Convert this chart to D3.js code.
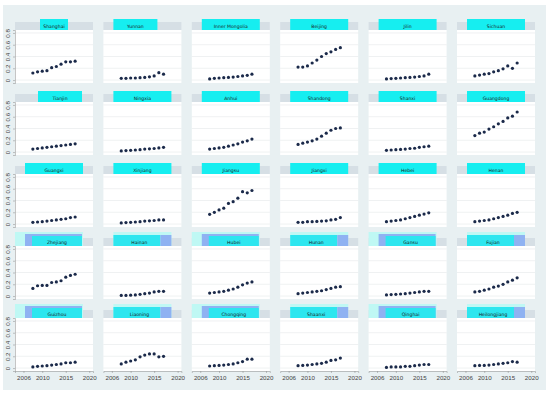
<!DOCTYPE html>
<html><head><meta charset="utf-8">
<script src="https://cdn.jsdelivr.net/npm/d3@7/dist/d3.min.js"></script>
<style>body{margin:0;background:#fff}svg{display:block;font-family:"DejaVu Sans",sans-serif}</style>
</head><body><svg id="c" width="550" height="394"></svg>
<script>
const years = [2008,2009,2010,2011,2012,2013,2014,2015,2016,2017];
const regions = [
 "Shanghai","Yunnan","Inner Mongolia","Beijing","Jilin","Sichuan",
 "Tianjin","Ningxia","Anhui","Shandong","Shanxi","Guangdong",
 "Guangxi","Xinjiang","Jiangsu","Jiangxi","Hebei","Henan",
 "Zhejiang","Hainan","Hubei","Hunan","Gansu","Fujian",
 "Guizhou","Liaoning","Chongqing","Shaanxi","Qinghai","Heilongjiang"];
const shanghai = [0.12,0.14,0.15,0.16,0.21,0.23,0.27,0.31,0.31,0.32];
const yunnan = [0.03,0.03,0.035,0.035,0.04,0.045,0.055,0.07,0.125,0.10];
const innerMongolia = [0.02,0.03,0.035,0.04,0.045,0.05,0.06,0.07,0.08,0.10];
const beijing = [0.22,0.22,0.24,0.29,0.34,0.40,0.45,0.48,0.52,0.55];
const jilin = [0.02,0.025,0.03,0.035,0.04,0.045,0.05,0.06,0.07,0.10];
const sichuan = [0.07,0.085,0.10,0.11,0.14,0.16,0.19,0.24,0.20,0.29];
const tianjin = [0.05,0.06,0.07,0.08,0.09,0.10,0.11,0.12,0.13,0.14];
const ningxia = [0.02,0.025,0.03,0.035,0.04,0.05,0.055,0.06,0.07,0.08];
const anhui = [0.05,0.06,0.07,0.08,0.10,0.12,0.14,0.17,0.19,0.22];
const shandong = [0.13,0.15,0.17,0.19,0.22,0.27,0.32,0.37,0.40,0.41];
const shanxi = [0.03,0.035,0.04,0.045,0.05,0.06,0.065,0.08,0.09,0.10];
const guangdong = [0.28,0.32,0.34,0.39,0.43,0.48,0.52,0.58,0.61,0.68];
const guangxi = [0.03,0.035,0.04,0.05,0.06,0.07,0.08,0.09,0.11,0.12];
const xinjiang = [0.02,0.025,0.03,0.035,0.04,0.05,0.055,0.06,0.07,0.07];
const jiangsu = [0.165,0.20,0.24,0.27,0.35,0.38,0.44,0.55,0.53,0.57];
const jiangxi = [0.03,0.03,0.04,0.04,0.045,0.05,0.055,0.07,0.08,0.11];
const hebei = [0.04,0.05,0.06,0.07,0.09,0.11,0.13,0.15,0.17,0.19];
const henan = [0.04,0.05,0.06,0.07,0.09,0.11,0.13,0.15,0.18,0.20];
const zhejiang = [0.13,0.175,0.18,0.18,0.23,0.24,0.26,0.32,0.35,0.37];
const hainan = [0.01,0.01,0.015,0.02,0.03,0.04,0.05,0.07,0.08,0.08];
const hubei = [0.05,0.06,0.07,0.08,0.10,0.12,0.15,0.19,0.22,0.24];
const hunan = [0.04,0.05,0.06,0.07,0.08,0.09,0.11,0.13,0.15,0.16];
const gansu = [0.02,0.025,0.03,0.035,0.04,0.05,0.06,0.07,0.08,0.08];
const fujian = [0.07,0.08,0.10,0.12,0.15,0.17,0.20,0.24,0.27,0.31];
const guizhou = [0.02,0.03,0.035,0.04,0.05,0.06,0.07,0.09,0.09,0.10];
const liaoning = [0.07,0.10,0.12,0.14,0.19,0.22,0.24,0.24,0.19,0.20];
const chongqing = [0.035,0.04,0.045,0.05,0.06,0.07,0.09,0.11,0.15,0.15];
const shaanxi = [0.04,0.045,0.05,0.06,0.07,0.08,0.10,0.13,0.14,0.17];
const qinghai = [0.01,0.02,0.02,0.02,0.03,0.03,0.04,0.05,0.06,0.06];
const heilongjiang = [0.04,0.045,0.045,0.05,0.06,0.07,0.08,0.09,0.11,0.10];
const seriesValues = [shanghai,yunnan,innerMongolia,beijing,jilin,sichuan,
 tianjin,ningxia,anhui,shandong,shanxi,guangdong,
 guangxi,xinjiang,jiangsu,jiangxi,hebei,henan,
 zhejiang,hainan,hubei,hunan,gansu,fujian,
 guizhou,liaoning,chongqing,shaanxi,qinghai,heilongjiang];
const yTicks = [0,0.2,0.4,0.6,0.8];
const xTicks = [2006,2010,2015,2020];

const svg = d3.select("#c");
svg.append("rect").attr("x",3).attr("y",5).attr("width",543).attr("height",385).attr("fill","#e8f0f2");

const cols = 6, pw = 78, ph = 53, sh = 8;
const colX = i => 15 + i*88.4;
const rowY = r => 22 + r*72;
const x = d3.scaleLinear().domain([2004.2,2020.8]).range([0,pw]);
const y = d3.scaleLinear().domain([-0.05,0.85]).range([ph,0]);
const boxOverride = {"Shanghai":[25,53],"Yunnan":[10,54],"Tianjin":[23,67]};

regions.forEach((name,k)=>{
  const c = k%cols, r = Math.floor(k/cols);
  const L = colX(c), T = rowY(r);
  const g = svg.append("g").attr("transform",`translate(${L},${T})`);
  // strip
  g.append("rect").attr("width",pw).attr("height",sh).attr("fill","#d6dfe5");
  let tx;
  if (r < 3) {
    const b = boxOverride[name] || [10,68];
    g.append("rect").attr("x",b[0]).attr("y",-3).attr("width",b[1]-b[0]).attr("height",sh+3).attr("fill","#16eef0");
    tx = (b[0]+b[1])/2;
  } else if (c % 2 === 0) {
    g.append("rect").attr("x",0).attr("y",-6).attr("width",68).attr("height",sh+6).attr("fill","#bff8f4");
    g.append("rect").attr("x",10).attr("y",-4).attr("width",57).attr("height",sh+4).attr("fill","#8fb2f2");
    g.append("rect").attr("x",17).attr("y",-2).attr("width",50).attr("height",sh+2).attr("fill","#2de6ef");
    tx = 42;
  } else {
    g.append("rect").attr("x",10).attr("y",-6).attr("width",58).attr("height",sh+6).attr("fill","#bff8f4");
    g.append("rect").attr("x",10).attr("y",-3).attr("width",47).attr("height",sh+3).attr("fill","#2de6ef");
    g.append("rect").attr("x",57).attr("y",-3).attr("width",11).attr("height",sh+3).attr("fill","#8fb2f2");
    tx = 36;
  }
  g.append("text").attr("x",tx).attr("y",sh-2.2).attr("text-anchor","middle")
    .attr("font-size",4.6).attr("fill","#1a1a1a").text(name);
  // plot
  const p = g.append("g").attr("transform",`translate(0,${sh})`);
  p.append("rect").attr("width",pw).attr("height",ph).attr("fill","#ffffff");
  p.selectAll("line.grid").data(yTicks).join("line").attr("class","grid")
    .attr("x1",0).attr("x2",pw).attr("y1",d=>y(d)).attr("y2",d=>y(d))
    .attr("stroke","#e4e8ea").attr("stroke-width",0.6);
  if (c === 0) {
    const ax = p.append("g").call(d3.axisLeft(y).tickValues(yTicks).tickSize(2).tickPadding(2).tickFormat(d3.format("")));
    ax.select(".domain").attr("stroke","#8a8a8a").attr("stroke-width",0.5);
    ax.selectAll(".tick line").attr("stroke","#8a8a8a").attr("stroke-width",0.5);
    ax.selectAll(".tick text").attr("font-size",6.2).attr("fill","#444")
      .attr("transform","rotate(-90)").attr("text-anchor","middle").attr("x",0).attr("y",-5).attr("dy","0");
  }
  if (r === 4) {
    const bx = p.append("g").attr("transform",`translate(0,${ph})`)
      .call(d3.axisBottom(x).tickValues(xTicks).tickSize(2).tickPadding(3).tickFormat(d3.format("d")));
    bx.select(".domain").attr("stroke","#8a8a8a").attr("stroke-width",0.5);
    bx.selectAll(".tick line").attr("stroke","#8a8a8a").attr("stroke-width",0.5);
    bx.selectAll(".tick text").attr("font-size",6.2).attr("fill","#444");
  }
  const vals = seriesValues[k];
  p.selectAll("circle").data(years.map((yr,i)=>({yr,v:vals[i]}))).join("circle")
    .attr("cx",d=>x(d.yr)).attr("cy",d=>y(d.v)).attr("r",1.6).attr("fill","#1b2a4a");
});
</script></body></html>
